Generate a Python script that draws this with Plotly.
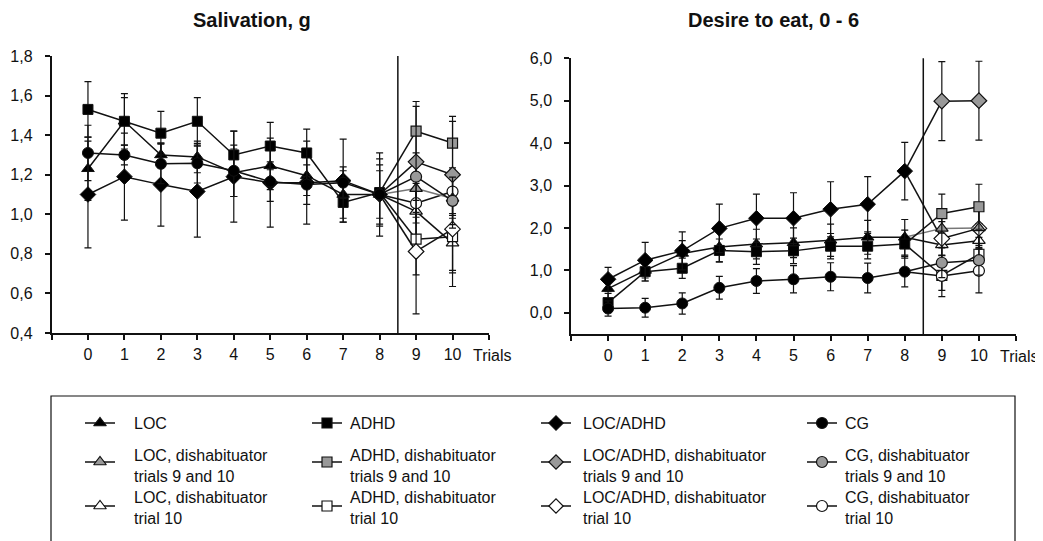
import plotly.graph_objects as go

# ---------------- data ----------------
trials = [0, 1, 2, 3, 4, 5, 6, 7, 8]
dis_trials = [9, 10]
tick_vals = [-1, 0, 1, 2, 3, 4, 5, 6, 7, 8, 9, 10, 11]
tick_text = ["", "0", "1", "2", "3", "4", "5", "6", "7", "8", "9", "10", ""]
x_axis_label = "Trials"

groups = ["LOC", "ADHD", "LOC/ADHD", "CG"]
symbols = ["triangle-up", "square", "diamond", "circle"]

# Salivation, g
sal_main = {
    "LOC":      [1.23, 1.47, 1.30, 1.29, 1.21, 1.245, 1.195, 1.10, 1.10],
    "ADHD":     [1.53, 1.47, 1.41, 1.47, 1.30, 1.345, 1.31, 1.06, 1.11],
    "LOC/ADHD": [1.10, 1.19, 1.15, 1.115, 1.19, 1.16, 1.16, 1.17, 1.10],
    "CG":       [1.31, 1.30, 1.255, 1.258, 1.22, 1.165, 1.15, 1.16, 1.10],
}
sal_main_err = {
    "LOC":      [0.16, 0.12, 0.06, 0.08, 0.12, 0.12, 0.10, 0.12, 0.15],
    "ADHD":     [0.14, 0.14, 0.11, 0.12, 0.12, 0.12, 0.12, 0.10, 0.17],
    "LOC/ADHD": [0.27, 0.22, 0.21, 0.23, 0.23, 0.225, 0.21, 0.21, 0.21],
    "CG":       [0.14, 0.05, 0.10, 0.10, 0.13, 0.10, 0.10, 0.08, 0.12],
}
sal_gray = {
    "LOC":      [1.13, 1.08],
    "ADHD":     [1.42, 1.36],
    "LOC/ADHD": [1.265, 1.20],
    "CG":       [1.19, 1.068],
}
sal_gray_err = {
    "LOC":      [0.12, 0.10],
    "ADHD":     [0.15, 0.135],
    "LOC/ADHD": [0.28, 0.27],
    "CG":       [0.12, 0.12],
}
sal_white = {
    "LOC":      [1.015, 0.854],
    "ADHD":     [0.874, 0.887],
    "LOC/ADHD": [0.812, 0.925],
    "CG":       [1.056, 1.115],
}
sal_white_err = {
    "LOC":      [0.12, 0.15],
    "ADHD":     [0.18, 0.17],
    "LOC/ADHD": [0.315, 0.29],
    "CG":       [0.10, 0.12],
}

# Desire to eat, 0 - 6
des_main = {
    "LOC":      [0.57, 1.00, 1.40, 1.55, 1.62, 1.65, 1.71, 1.78, 1.78],
    "ADHD":     [0.24, 0.97, 1.05, 1.47, 1.44, 1.46, 1.57, 1.57, 1.62],
    "LOC/ADHD": [0.79, 1.24, 1.46, 1.99, 2.23, 2.23, 2.44, 2.56, 3.34],
    "CG":       [0.10, 0.12, 0.22, 0.59, 0.75, 0.79, 0.85, 0.82, 0.97],
}
des_main_err = {
    "LOC":      [0.30, 0.25, 0.30, 0.35, 0.35, 0.35, 0.38, 0.40, 0.42],
    "ADHD":     [0.22, 0.22, 0.24, 0.27, 0.30, 0.30, 0.30, 0.30, 0.33],
    "LOC/ADHD": [0.28, 0.42, 0.45, 0.57, 0.57, 0.60, 0.65, 0.65, 0.68],
    "CG":       [0.18, 0.22, 0.25, 0.27, 0.29, 0.32, 0.33, 0.35, 0.36],
}
des_gray = {
    "LOC":      [1.99, 2.00],
    "ADHD":     [2.34, 2.50],
    "LOC/ADHD": [4.99, 5.00],
    "CG":       [1.18, 1.24],
}
des_gray_err = {
    "LOC":      [0.45, 0.50],
    "ADHD":     [0.46, 0.53],
    "LOC/ADHD": [0.93, 0.93],
    "CG":       [0.35, 0.35],
}
des_white = {
    "LOC":      [1.60, 1.70],
    "ADHD":     [0.88, 1.38],
    "LOC/ADHD": [1.75, 1.99],
    "CG":       [0.87, 0.99],
}
des_white_err = {
    "LOC":      [0.40, 0.40],
    "ADHD":     [0.35, 0.40],
    "LOC/ADHD": [0.40, 0.45],
    "CG":       [0.49, 0.52],
}

legend_labels = [
    ["LOC", "ADHD", "LOC/ADHD", "CG"],
    ["LOC, dishabituator<br>trials 9 and 10", "ADHD, dishabituator<br>trials 9 and 10",
     "LOC/ADHD, dishabituator<br>trials 9 and 10", "CG, dishabituator<br>trials 9 and 10"],
    ["LOC, dishabituator<br>trial 10", "ADHD, dishabituator<br>trial 10",
     "LOC/ADHD, dishabituator<br>trial 10", "CG, dishabituator<br>trial 10"],
]

# ---------------- styles ----------------
PAGE_W, PAGE_H = 1043, 541
OFF = 8                      # default body margin of the page
W, H = PAGE_W - OFF, PAGE_H - OFF
FONT = "Liberation Sans, Arial, sans-serif"
INK = "#111111"
FILLS = ["#000000", "#999999", "#ffffff"]
MSIZE = {"triangle-up": 11, "square": 10, "diamond": 12, "circle": 11}
LEG_MSIZE = {"triangle-up": 11, "square": 10, "diamond": 11, "circle": 11}


def px_x(p):
    """page pixel -> paper fraction"""
    return (p - OFF) / W


def px_y(p):
    return 1 - (p - OFF) / H


fig = go.Figure()


def panel(main, main_err, gray, gray_err, white, white_err, xa, ya):
    for data, err, fill in ((white, white_err, FILLS[2]), (gray, gray_err, FILLS[1])):
        for g, sym in zip(groups, symbols):
            line_col = "#777777" if (fill == FILLS[1] and g == "LOC") else INK
            fig.add_trace(go.Scatter(
                x=[trials[-1], dis_trials[0]], y=[main[g][-1], data[g][0]],
                mode="lines", line=dict(color=line_col, width=1.5),
                xaxis=xa, yaxis=ya, showlegend=False, hoverinfo="skip"))
            fig.add_trace(go.Scatter(
                x=dis_trials, y=data[g], mode="lines+markers",
                line=dict(color=line_col, width=1.5),
                marker=dict(symbol=sym, size=MSIZE[sym], color=fill,
                            line=dict(color=INK, width=1.2)),
                error_y=dict(type="data", array=err[g], visible=True,
                             color=INK, thickness=1.2, width=3.5),
                xaxis=xa, yaxis=ya, showlegend=False))
    for g, sym in zip(groups, symbols):
        fig.add_trace(go.Scatter(
            x=trials, y=main[g], mode="lines+markers",
            line=dict(color=INK, width=1.5),
            marker=dict(symbol=sym, size=MSIZE[sym], color=FILLS[0],
                        line=dict(color=INK, width=1)),
            error_y=dict(type="data", array=main_err[g], visible=True,
                         color=INK, thickness=1.2, width=3.5),
            xaxis=xa, yaxis=ya, showlegend=False))


panel(sal_main, sal_main_err, sal_gray, sal_gray_err, sal_white, sal_white_err, "x", "y")
panel(des_main, des_main_err, des_gray, des_gray_err, des_white, des_white_err, "x2", "y2")

# ---------------- manual legend (helper pixel axis, page coordinates) ----------------
leg_cols_sym = [100, 327, 556, 822]
leg_cols_txt = [132, 348, 581, 843]
leg_rows_sym = [423, 462, 506]
leg_rows_txt = [423, 466, 507.5]
annotations = []
for r in range(3):
    for c in range(4):
        sym = symbols[c]
        cx, cy = leg_cols_sym[c], leg_rows_sym[r]
        fig.add_trace(go.Scatter(
            x=[cx - 15, cx + 15], y=[cy, cy], mode="lines",
            line=dict(color=INK, width=1.5), xaxis="x3", yaxis="y3",
            showlegend=False, hoverinfo="skip"))
        fig.add_trace(go.Scatter(
            x=[cx], y=[cy], mode="markers",
            marker=dict(symbol=sym, size=LEG_MSIZE[sym], color=FILLS[r],
                        line=dict(color=INK, width=1.2)),
            xaxis="x3", yaxis="y3", showlegend=False, hoverinfo="skip"))
        annotations.append(dict(
            text=legend_labels[r][c], x=px_x(leg_cols_txt[c]), y=px_y(leg_rows_txt[r]),
            xref="paper", yref="paper", xanchor="left", yanchor="middle",
            align="left", showarrow=False,
            font=dict(family=FONT, size=16, color=INK)))

annotations.append(dict(text="<b>Salivation, g</b>", x=px_x(252), y=px_y(20),
                        xref="paper", yref="paper", xanchor="center", yanchor="middle",
                        showarrow=False, font=dict(family=FONT, size=20, color=INK)))
annotations.append(dict(text="<b>Desire to eat, 0 - 6</b>", x=px_x(773), y=px_y(20),
                        xref="paper", yref="paper", xanchor="center", yanchor="middle",
                        showarrow=False, font=dict(family=FONT, size=20, color=INK)))
# "Trials" axis label at the end of each x axis
for xr, ypx in (("x", 355), ("x2", 356)):
    annotations.append(dict(text=x_axis_label, x=tick_vals[-1], xref=xr, xshift=3,
                            y=px_y(ypx), yref="paper", xanchor="center", yanchor="middle",
                            showarrow=False, font=dict(family=FONT, size=16, color=INK)))

common_x = dict(range=[-1, 11], tickmode="array", tickvals=tick_vals, ticktext=tick_text,
                showline=True, linecolor=INK, linewidth=1.5, ticks="outside", ticklen=5,
                tickwidth=1.5, tickcolor=INK, showgrid=False, zeroline=False,
                ticklabelstandoff=1, automargin=False,
                tickfont=dict(family=FONT, size=16, color=INK), fixedrange=True)
common_y = dict(showline=True, linecolor=INK, linewidth=1.5, ticks="outside", ticklen=5,
                tickwidth=1.5, tickcolor=INK, showgrid=False, zeroline=False,
                tickformat=".1f", ticklabelstandoff=9, automargin=False,
                ticklabeloverflow="allow",
                tickfont=dict(family=FONT, size=16, color=INK), fixedrange=True)

fig.update_layout(
    width=W, height=H, autosize=False,
    margin=dict(l=0, r=0, t=0, b=0, pad=0, autoexpand=False),
    paper_bgcolor="white", plot_bgcolor="rgba(0,0,0,0)",
    separators=", ",
    showlegend=False,
    xaxis=dict(domain=[px_x(51.5), px_x(489)], anchor="y", **common_x),
    yaxis=dict(domain=[px_y(333), px_y(56)], anchor="x", range=[0.4, 1.8], dtick=0.2, **common_y),
    xaxis2=dict(domain=[px_x(571), px_x(1016)], anchor="y2", **common_x),
    yaxis2=dict(domain=[px_y(334), px_y(58.3)], anchor="x2", range=[-0.5, 6.0], dtick=1, **common_y),
    xaxis3=dict(domain=[0, 1], range=[OFF, OFF + W], visible=False, fixedrange=True, anchor="y3"),
    yaxis3=dict(domain=[0, 1], range=[OFF + H, OFF], visible=False, fixedrange=True, anchor="x3"),
    annotations=annotations,
    shapes=[
        dict(type="line", xref="x", yref="y domain", x0=8.5, x1=8.5, y0=0, y1=1,
             line=dict(color=INK, width=1.5)),
        dict(type="line", xref="x2", yref="y2 domain", x0=8.5, x1=8.5, y0=0, y1=1,
             line=dict(color=INK, width=1.5)),
        dict(type="rect", xref="paper", yref="paper", x0=px_x(51), x1=px_x(1015),
             y0=px_y(560), y1=px_y(396), line=dict(color=INK, width=1.2)),
    ],
)

fig.write_html("out.html")
